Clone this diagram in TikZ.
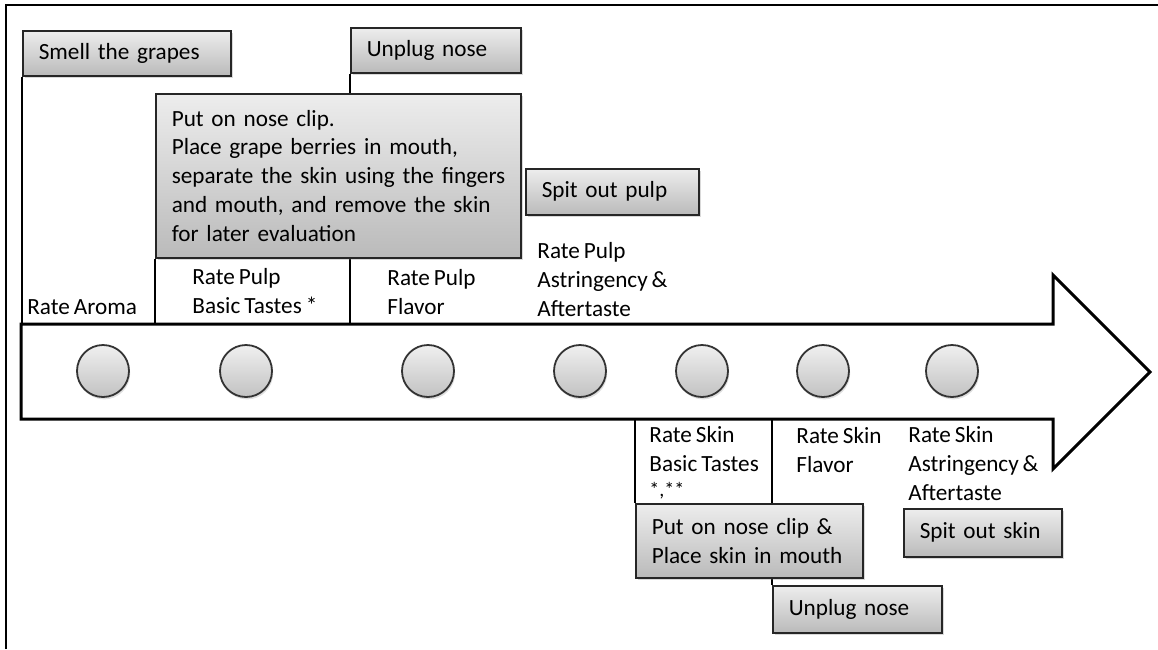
\documentclass[tikz,border=0pt]{standalone}
\usepackage{fontspec}
\setmainfont{Carlito}[WordSpace=0.75]
\usepackage{tikz}
\usetikzlibrary{shadows}
\tikzset{card/.style={draw=black!85,line width=0.8pt,top color=black!7,bottom color=black!27,
                      drop shadow={shadow xshift=1.2pt,shadow yshift=-1.2pt,opacity=0.3},
                      anchor=north west,inner xsep=8pt,inner ysep=0pt,align=left}}
\tikzset{dot/.style={circle,draw=black!80,line width=0.9pt,top color=black!6,bottom color=black!24,
                     minimum size=26pt,inner sep=0pt,
                     drop shadow={shadow xshift=0.6pt,shadow yshift=-1.2pt,opacity=0.25}}}
\tikzset{rate/.style={anchor=base west,inner sep=0pt,align=left}}
\tikzset{sep/.style={draw=black,line width=0.8pt}}

\begin{document}
\begin{tikzpicture}[x=0.5pt,y=-0.5pt,font=\fontsize{11.6}{14.4}\selectfont]
    \useasboundingbox (0,0) rectangle (1158,649);

    % frame
    \draw[line width=1pt] (6,649) -- (6,5) -- (1158,5);

    % the arrow
    \coordinate (arrowtop) at (21,324);
    \coordinate (arrowbot) at (21,419);
    \draw[line width=1.5pt,miter limit=10] (arrowtop) -- (1053,324) -- (1053,275) -- (1150,372)
        -- (1053,469) -- (1053,419) -- (arrowbot) -- cycle;

    % steps on the arrow
    \foreach \x [count=\ci] in {103,246,428,580,702,823,952}{
        \node[dot] (c\ci) at (\x,371) {};
    }

    % boxes above the arrow
    \node[card,text width=88pt,minimum height=22.5pt] (smell) at (22,30) {Smell the grapes};
    \node[card,text width=69pt,minimum height=22.5pt] (unplugA) at (350,27) {Unplug nose};
    \draw[sep] (smell.south west) -- (smell.south west |- arrowtop);
    \draw[sep] (unplugA.south west) -- (unplugA.south west |- arrowtop);
    \node[card,text width=166.5pt,minimum height=82pt] (clipA) at (155,93)
        {Put on nose clip.\\Place grape berries in  mouth,\\\mbox{separate the skin using the fingers}\\and mouth, and remove the skin\\for later evaluation};
    \draw[sep] (clipA.south west) -- (clipA.south west |- arrowtop);
    \node[card,text width=70.5pt,minimum height=23pt] (spitA) at (525,168) {Spit out pulp};

    % ratings of the pulp (base = last line)
    \node[rate] (aroma) at (27,314) {Rate Aroma};
    \node[rate] (pulpbasic) at (192,313) {Rate Pulp\\Basic Tastes *};
    \node[rate] (pulpflavor) at (387,314) {Rate Pulp\\Flavor};
    \node[rate] (pulpastr) at (537,316) {Rate Pulp\\Astringency \&\\Aftertaste};

    % boxes below the arrow
    \node[card,text width=68.5pt,minimum height=23.5pt] (unplugB) at (772,585) {Unplug nose};
    \draw[sep] (unplugB.north west) -- (unplugB.north west |- arrowbot);
    \node[card,text width=97.5pt,minimum height=37pt] (clipB) at (635,503)
        {Put on nose clip \&\\Place skin in mouth};
    \draw[sep] (clipB.north west) -- (clipB.north west |- arrowbot);
    \node[card,text width=63pt,minimum height=24pt] (spitB) at (903,508) {Spit out skin};

    % ratings of the skin
    \node[rate] (skinbasic) at (649,496) {Rate Skin\\Basic Tastes\\[-2pt]{\fontsize{10}{11}\selectfont *,**}};
    \node[rate] (skinflavor) at (796,472) {Rate Skin\\Flavor};
    \node[rate] (skinastr) at (908,500) {Rate Skin\\Astringency \&\\Aftertaste};
\end{tikzpicture}
\end{document}
